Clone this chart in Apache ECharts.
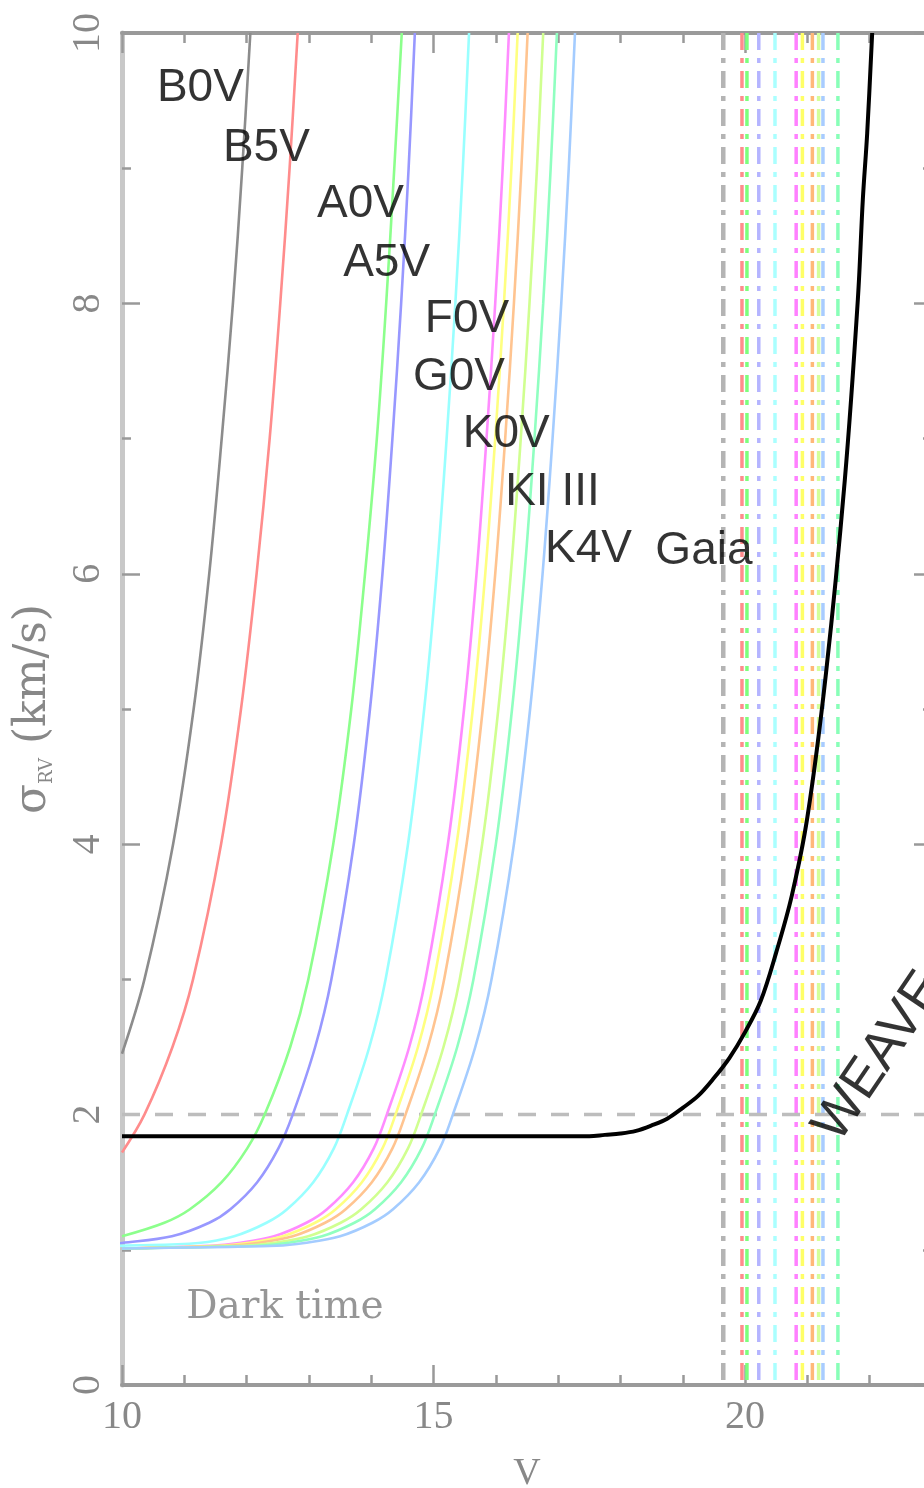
<!DOCTYPE html>
<html>
<head>
<meta charset="utf-8">
<script src="https://cdn.jsdelivr.net/npm/echarts@6/dist/echarts.min.js"></script>
<style>
  html, body { margin: 0; padding: 0; background: #fff; }
  #chart { width: 924px; height: 1488px; }
</style>
</head>
<body>
<div id="chart"></div>
<script>
// sigma_RV tracks per spectral type (V mag, km/s)
const b0vV = [10.00, 10.36, 10.82, 11.15, 11.40, 11.60, 11.78, 11.93, 12.06];
const b0vS = [2.45, 3, 4, 5, 6, 7, 8, 9, 10];
const b5vV = [10.00, 10.36, 10.81, 11.14, 11.59, 11.91, 12.16, 12.37, 12.54, 12.69, 12.82];
const b5vS = [1.72, 2, 2.5, 3, 4, 5, 6, 7, 8, 9, 10];
const a0vV = [10.00, 10.68, 11.09, 11.60, 12.01, 12.29, 12.70, 12.99, 13.39, 13.68, 13.90, 14.09, 14.24, 14.37, 14.49];
const a0vS = [1.10, 1.2, 1.3, 1.5, 1.75, 2, 2.5, 3, 4, 5, 6, 7, 8, 9, 10];
// the later tracks share the same sigma steps (first points may sit left of V = 10)
const trackS = [1.01, 1.03, 1.05, 1.1, 1.2, 1.3, 1.5, 1.75, 2, 2.5, 3, 4, 5, 6, 7, 8, 9, 10];
const a5vV = [8.60, 9.60, 10.00, 10.80, 11.40, 11.74, 12.17, 12.51, 12.74, 13.10, 13.36, 13.72, 13.98, 14.18, 14.34, 14.48, 14.60, 14.70];
const f0vV = [9.00, 10.00, 11.23, 11.80, 12.32, 12.65, 13.07, 13.40, 13.61, 13.97, 14.23, 14.59, 14.85, 15.05, 15.21, 15.35, 15.47, 15.57];
const g0vV = [10.00, 11.42, 11.87, 12.44, 12.96, 13.29, 13.71, 14.04, 14.25, 14.61, 14.87, 15.23, 15.49, 15.69, 15.85, 15.99, 16.11, 16.21];
const k0vV = [10.00, 11.56, 12.01, 12.58, 13.10, 13.43, 13.85, 14.18, 14.39, 14.75, 15.01, 15.37, 15.63, 15.83, 15.99, 16.13, 16.25, 16.35];
const k1iiiV = [10.00, 11.72, 12.17, 12.74, 13.26, 13.59, 14.01, 14.34, 14.55, 14.91, 15.17, 15.53, 15.79, 15.99, 16.15, 16.29, 16.41, 16.51];
const k4vV = [10.00, 11.97, 12.42, 12.99, 13.51, 13.84, 14.26, 14.59, 14.80, 15.16, 15.42, 15.78, 16.04, 16.24, 16.40, 16.54, 16.66, 16.76];
const track10V = [10.00, 12.19, 12.64, 13.21, 13.73, 14.06, 14.48, 14.81, 15.02, 15.38, 15.64, 16.00, 16.26, 16.46, 16.62, 16.76, 16.88, 16.98];
const track11V = [10.00, 12.48, 12.93, 13.50, 14.02, 14.35, 14.77, 15.10, 15.31, 15.67, 15.93, 16.29, 16.55, 16.75, 16.91, 17.05, 17.17, 17.27];

// WEAVE curve
const weaveV = [10, 15.5, 16.5, 17.0, 17.5, 17.75, 18.0, 18.25, 18.5, 18.75, 19.0, 19.25, 19.5, 19.75, 20.0, 20.25, 20.5, 20.75, 21.0, 21.3, 21.6, 21.81, 21.89, 21.96, 22.04];
const weaveS = [1.84, 1.84, 1.84, 1.84, 1.84, 1.85, 1.86, 1.88, 1.92, 1.97, 2.05, 2.14, 2.27, 2.42, 2.61, 2.84, 3.20, 3.62, 4.20, 5.27, 6.69, 8.03, 8.77, 9.26, 10.0];

// Gaia limiting magnitudes (vertical dash-dot lines)
const gaiaLimits = [19.65, 19.95, 20.03, 20.22, 20.48, 20.82, 20.92, 21.08, 21.18, 21.25, 21.49];
const gaiaColors = ['#b4b4b4', '#ff8c8c', '#7dff7d', '#b4b4ff', '#aaffff', '#ff80ff', '#ffff66', '#ffb878', '#d4ff99', '#a8ccff', '#88ffb8'];

const refSigma = 2;
const xTickLabels = [10, 15, 20];
const yTickLabels = [0, 2, 4, 6, 8, 10];

const trackNames = ['B0V', 'B5V', 'A0V', 'A5V', 'F0V', 'G0V', 'K0V', 'KI III', 'K4V', 'track10', 'track11'];
const trackColors = ['#8c8c8c', '#ff8c8c', '#8cff8c', '#9898ff', '#99ffff', '#ff8cff', '#ffff80', '#ffc490', '#d0ff90', '#90ffc0', '#a4ccff'];

// text labels: text, V, sigma
const labelText = ['B0V', 'B5V', 'A0V', 'A5V', 'F0V', 'G0V', 'K0V', 'KI III', 'K4V', 'Gaia'];
const labelV = [10.56, 11.62, 13.13, 13.55, 14.86, 14.67, 15.47, 16.15, 16.79, 18.56];
const labelS = [9.59, 9.15, 8.73, 8.30, 7.88, 7.45, 7.03, 6.60, 6.18, 6.17];

const zip = (xs, ys) => xs.map((x, i) => [x, ys[i]]);

const laterV = [a5vV, f0vV, g0vV, k0vV, k1iiiV, k4vV, track10V, track11V];
const trackData = [zip(b0vV, b0vS), zip(b5vV, b5vS), zip(a0vV, a0vS)];
laterV.forEach(vs => trackData.push(zip(vs, trackS)));

const series = [];

gaiaLimits.forEach((v, i) => {
    series.push({
        type: 'line', silent: true, symbol: 'none',
        data: [[v, 10], [v, 0]],
        lineStyle: { color: gaiaColors[i], width: i === 0 ? 4.5 : 3.5, type: [17, 8, 5, 8] },
        z: 1
    });
});

series.push({
    type: 'line', silent: true, symbol: 'none',
    data: [[10, refSigma], [23, refSigma]],
    lineStyle: { color: '#bdbdbd', width: 3.5, type: [18, 15] },
    z: 2
});

trackData.forEach((d, i) => {
    series.push({
        name: trackNames[i],
        type: 'line', symbol: 'none', smooth: 0.35,
        data: d,
        lineStyle: { color: trackColors[i], width: 2.6 },
        z: 3
    });
});

series.push({
    name: 'WEAVE',
    type: 'line', symbol: 'none', smooth: 0.35,
    data: zip(weaveV, weaveS),
    lineStyle: { color: '#000', width: 4 },
    z: 4
});

series.push({
    type: 'scatter', symbolSize: 0, silent: true,
    data: labelText.map((t, i) => [labelV[i], labelS[i], t]),
    label: {
        show: true, position: 'right', distance: 0,
        formatter: p => p.data[2],
        fontFamily: 'Liberation Sans', fontSize: 46, color: '#000'
    },
    z: 5
});

series.push({
    type: 'scatter', symbolSize: 0, silent: true,
    data: [[11.03, 0.57, 'Dark time']],
    label: {
        show: true, position: 'right', distance: 0,
        formatter: p => p.data[2],
        fontFamily: 'DejaVu Serif', fontSize: 39, color: '#7c7c7c'
    },
    z: 5
});

series.push({
    type: 'scatter', symbolSize: 0, silent: true,
    data: [[21.3, 1.84, 'WEAVE']],
    label: {
        show: true, position: 'right', distance: 0, rotate: 56,
        formatter: p => p.data[2],
        fontFamily: 'Liberation Sans', fontSize: 54, color: '#000'
    },
    z: 5
});

const tickStyle = { color: '#999', width: 2.5 };
const xBase = { type: 'value', min: 10, max: 23, splitLine: { show: false } };
const yBase = { type: 'value', min: 0, max: 10, interval: 2, splitLine: { show: false } };

let myChart = echarts.init(document.getElementById('chart'));
myChart.setOption({
    animation: false,
    backgroundColor: '#fff',
    grid: { left: 122, top: 33, width: 810, height: 1352, containLabel: false, outerBoundsMode: 'none' },
    xAxis: [
        Object.assign({}, xBase, {
            position: 'bottom', interval: 5,
            axisLine: { lineStyle: { color: '#9a9a9a', width: 4 } },
            axisTick: { inside: true, length: 20, lineStyle: tickStyle },
            axisLabel: {
                margin: 12, showMaxLabel: false,
                formatter: v => xTickLabels.includes(v) ? String(v) : '',
                fontFamily: 'Liberation Serif', fontSize: 40, color: '#888'
            },
            name: 'V', nameLocation: 'middle', nameGap: 70,
            nameTextStyle: { fontFamily: 'Liberation Serif', fontSize: 38, color: '#888' }
        }),
        Object.assign({}, xBase, {
            position: 'bottom', interval: 1,
            axisLine: { show: false },
            axisTick: { inside: true, length: 10, lineStyle: tickStyle },
            axisLabel: { show: false }
        }),
        Object.assign({}, xBase, {
            position: 'top', interval: 5,
            axisLine: { lineStyle: { color: '#9a9a9a', width: 4 } },
            axisTick: { inside: true, length: 20, lineStyle: tickStyle },
            axisLabel: { show: false }
        }),
        Object.assign({}, xBase, {
            position: 'top', interval: 1,
            axisLine: { show: false },
            axisTick: { inside: true, length: 10, lineStyle: tickStyle },
            axisLabel: { show: false }
        })
    ],
    yAxis: [
        Object.assign({}, yBase, {
            position: 'left',
            axisLine: { lineStyle: { color: '#c8c8c8', width: 5 } },
            axisTick: { inside: true, length: 18, lineStyle: tickStyle },
            minorTick: { show: true, splitNumber: 2, length: 9, lineStyle: tickStyle },
            axisLabel: {
                rotate: 90, margin: 14,
                formatter: v => yTickLabels.includes(v) ? String(v) : '',
                fontFamily: 'Liberation Serif', fontSize: 40, color: '#888'
            },
            name: '{s|σ}{r|RV} (km/s)', nameLocation: 'middle', nameRotate: 90, nameGap: 66,
            nameTextStyle: {
                fontFamily: 'DejaVu Serif', fontSize: 44, color: '#888',
                rich: {
                    s: { fontFamily: 'DejaVu Serif', fontSize: 44, color: '#888' },
                    r: { fontFamily: 'DejaVu Serif', fontSize: 18, color: '#888', verticalAlign: 'bottom' }
                }
            }
        }),
        Object.assign({}, yBase, {
            position: 'right',
            axisLine: { lineStyle: { color: '#9a9a9a', width: 4 } },
            axisTick: { inside: true, length: 18, lineStyle: tickStyle },
            minorTick: { show: true, splitNumber: 2, length: 9, lineStyle: tickStyle },
            axisLabel: { show: false }
        })
    ],
    series: series
});
</script>
</body>
</html>
